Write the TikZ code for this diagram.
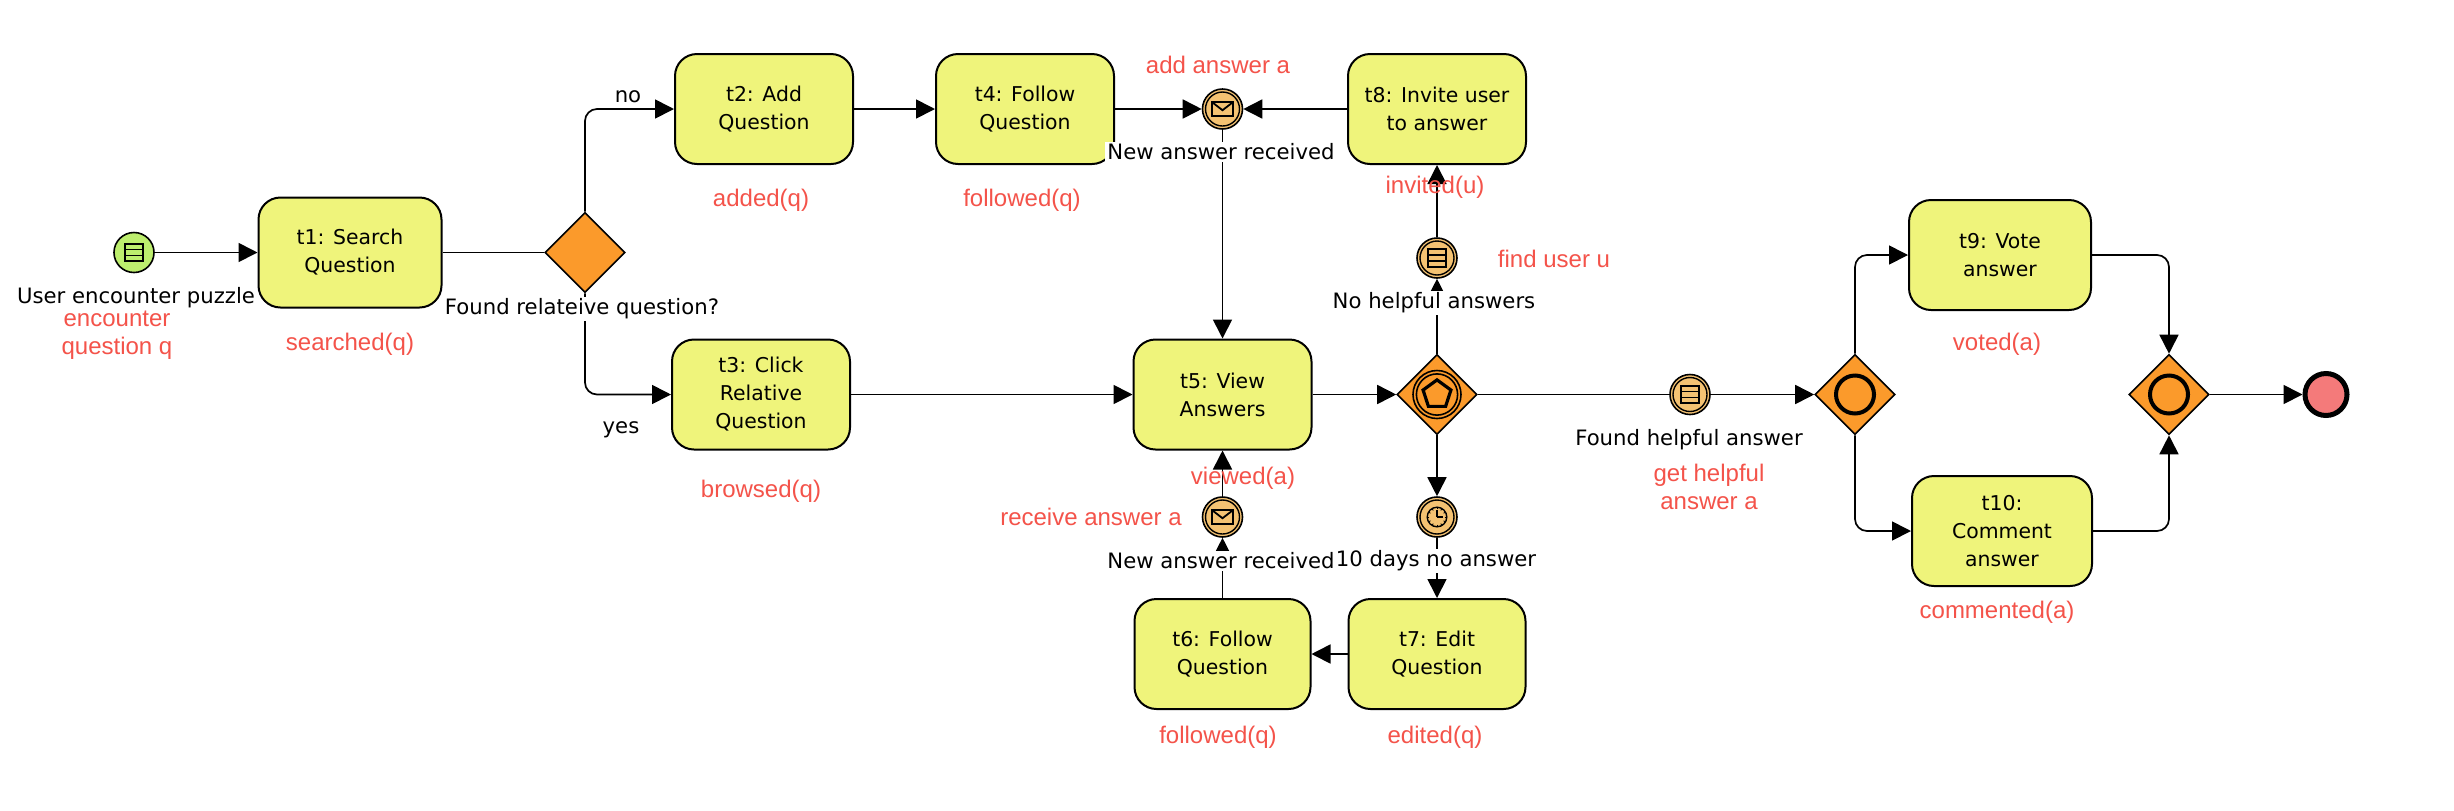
\documentclass[tikz,border=0pt]{standalone}
\usepackage{fontspec}
\setmainfont{DejaVu Sans}
\newfontfamily\redfont{Liberation Sans}
\usetikzlibrary{arrows.meta,shapes.geometric}
\definecolor{taskfill}{HTML}{EFF47B}
\definecolor{gatefill}{HTML}{FB9A2B}
\definecolor{evfill}{HTML}{F4C272}
\definecolor{startfill}{HTML}{BDEE6E}
\definecolor{endfill}{HTML}{F47A7A}
\definecolor{redtxt}{HTML}{F4534A}
\tikzset{
  task/.style={draw=black,line width=1pt,fill=taskfill,rounded corners=11pt,minimum width=89pt,minimum height=55pt,inner sep=0pt,align=center,font=\fontsize{10.2}{14}\selectfont},
  gate/.style={draw=black,line width=0.8pt,fill=gatefill,diamond,aspect=1,minimum size=40pt,inner sep=0pt},
  evnt/.style={draw=black,line width=0.8pt,fill=evfill,circle,minimum size=20pt,inner sep=0pt},
  startev/.style={evnt,fill=startfill},
  endev/.style={draw=black,line width=2.5pt,fill=endfill,circle,minimum size=21pt,inner sep=0pt},
  flow/.style={draw=black,line width=0.85pt,-{Triangle[length=9.5pt,width=9.5pt]},rounded corners=6pt},
  plainflow/.style={draw=black,line width=0.85pt},
  lbl/.style={font=\fontsize{10.6}{14}\selectfont,fill=white,inner xsep=1pt,inner ysep=1pt},
  red/.style={font=\redfont\fontsize{12}{14.2}\selectfont,text=redtxt,align=center,inner sep=0pt},
  icon/.style={draw=black,line width=0.9pt},
}
\newcommand{\ringat}[1]{\draw[line width=0.7pt] (#1) circle (8.5pt);}
\newcommand{\listicon}[1]{%
  \begin{scope}[shift={(#1)}]
    \draw[icon,line width=1.1pt] (-4.4pt,-4.4pt) rectangle (4.4pt,4.4pt);
    \draw[icon,line width=0.8pt] (-4.4pt,-1.5pt) -- (4.4pt,-1.5pt) (-4.4pt,1.5pt) -- (4.4pt,1.5pt);
  \end{scope}}
\newcommand{\mailicon}[1]{%
  \begin{scope}[shift={(#1)}]
    \draw[icon] (-5.2pt,-3.4pt) rectangle (5.2pt,3.4pt);
    \draw[icon] (-5.2pt,3.4pt) -- (0pt,-0.6pt) -- (5.2pt,3.4pt);
  \end{scope}}
\newcommand{\clockicon}[1]{%
  \begin{scope}[shift={(#1)}]
    \draw[icon,line width=0.7pt] (0,0) circle (4.9pt);
    \draw[line width=0.6pt] (0,0) -- (0pt,3.6pt) (0,0) -- (3pt,0pt);
    \foreach \a in {0,30,...,330}{\draw[line width=0.4pt] (\a:3.8pt) -- (\a:4.9pt);}
  \end{scope}}
\begin{document}
\begin{tikzpicture}[x=0.5pt,y=-0.5pt]
\useasboundingbox[fill=white] (0,0) rectangle (2454,810);
% events and gateways
\node[startev] (start) at (134,252.5) {};
\node[task,minimum width=91.5pt] (t1) at (350,252.5) {t1: Search\\Question};
\node[gate] (g1) at (585,252.5) {};
\node[task] (t2) at (764,109) {t2: Add\\Question};
\node[task] (t3) at (761,394.5) {t3: Click\\Relative\\Question};
\node[task] (t4) at (1025,109) {t4: Follow\\Question};
\node[evnt] (m1) at (1222.5,109) {};
\node[task] (t8) at (1437,109) {t8: Invite user\\to answer};
\node[task] (t5) at (1222.5,394.5) {t5: View\\Answers};
\node[gate] (g2) at (1437,394.5) {};
\node[evnt] (e1) at (1437,258) {};
\node[evnt] (m2) at (1222.5,517) {};
\node[evnt] (c1) at (1437,517) {};
\node[task,minimum width=88pt] (t6) at (1222.5,654) {t6: Follow\\Question};
\node[task,minimum width=88.5pt] (t7) at (1437,654) {t7: Edit\\Question};
\node[evnt] (e2) at (1690,394.5) {};
\node[gate] (g3) at (1855,394.5) {};
\node[task,minimum width=91pt] (t9) at (2000,255) {t9: Vote\\answer};
\node[task,minimum width=90pt] (t10) at (2002,531) {t10:\\Comment\\answer};
\node[gate] (g4) at (2169,394.5) {};
\node[endev] (end) at (2326,394.5) {};
% icons
\listicon{start}
\ringat{m1}\mailicon{m1}
\ringat{e1}\listicon{e1}
\ringat{m2}\mailicon{m2}
\ringat{c1}\clockicon{c1}
\ringat{e2}\listicon{e2}
\draw[line width=0.8pt] (g2) circle (12pt) (g2) circle (10.3pt);
\draw[line width=1.6pt] (g2) ++(90:7.3pt) -- ++(-36:8.6pt) -- ++(-108:8.6pt) -- ++(-180:8.6pt) -- ++(108:8.6pt) -- cycle;
\draw[line width=2pt] (g3) circle (9.5pt);
\draw[line width=2pt] (g4) circle (9.5pt);
% flows
\draw[flow] (start) -- (t1);
\draw[plainflow] (t1) -- (g1);
\draw[flow] (g1.north) |- (t2.west);
\draw[flow] (g1.south) |- (t3.west);
\draw[flow] (t2) -- (t4);
\draw[flow] (t3) -- (t5);
\draw[flow] (t4) -- (m1);
\draw[flow] (t8) -- (m1);
\draw[flow] (m1) -- (t5);
\draw[flow] (t5) -- (g2);
\draw[flow] (g2) -- (e1);
\draw[flow] (e1) -- (t8);
\draw[flow] (g2) -- (c1);
\draw[flow] (c1) -- (t7);
\draw[flow] (t7) -- (t6);
\draw[flow] (t6) -- (m2);
\draw[flow] (m2) -- (t5);
\draw[plainflow] (g2) -- (e2);
\draw[flow] (e2) -- (g3);
\draw[flow] (g3.north) |- (t9.west);
\draw[flow] (g3.south) |- (t10.west);
\draw[flow] (t9.east) -| (g4.north);
\draw[flow] (t10.east) -| (g4.south);
\draw[flow] (g4) -- (end);
% black labels
\node[lbl] (l1) at (136,298) {User encounter puzzle};
\node[lbl] (l2) at (582,309) {Found relateive question?};
\node[lbl] (l3) at (628,97) {no};
\node[lbl] (l4) at (621,430) {yes};
\node[lbl] (l5) at (1221,152) {New answer received};
\node[lbl] (l6) at (1434,303) {No helpful answers};
\node[lbl] (l7) at (1221,561) {New answer received};
\node[lbl] (l8) at (1436,561) {10 days no answer};
\node[lbl] (l9) at (1689,440) {Found helpful answer};
% red labels
\node[red] (r1) at (117,335) {encounter\\question q};
\node[red] (r2) at (350,344) {searched(q)};
\node[red] (r3) at (761,200) {added(q)};
\node[red] (r4) at (1022,200) {followed(q)};
\node[red] (r5) at (761,491) {browsed(q)};
\node[red] (r6) at (1218,65) {add answer a};
\node[red] (r7) at (1435,187) {invited(u)};
\node[red] (r8) at (1554,259) {find user u};
\node[red] (r9) at (1243,478) {viewed(a)};
\node[red] (r10) at (1091,517) {receive answer a};
\node[red] (r11) at (1709,487) {get helpful\\answer a};
\node[red] (r12) at (1997,344) {voted(a)};
\node[red] (r13) at (1997,612) {commented(a)};
\node[red] (r14) at (1218,737) {followed(q)};
\node[red] (r15) at (1435,737) {edited(q)};
\end{tikzpicture}
\end{document}
